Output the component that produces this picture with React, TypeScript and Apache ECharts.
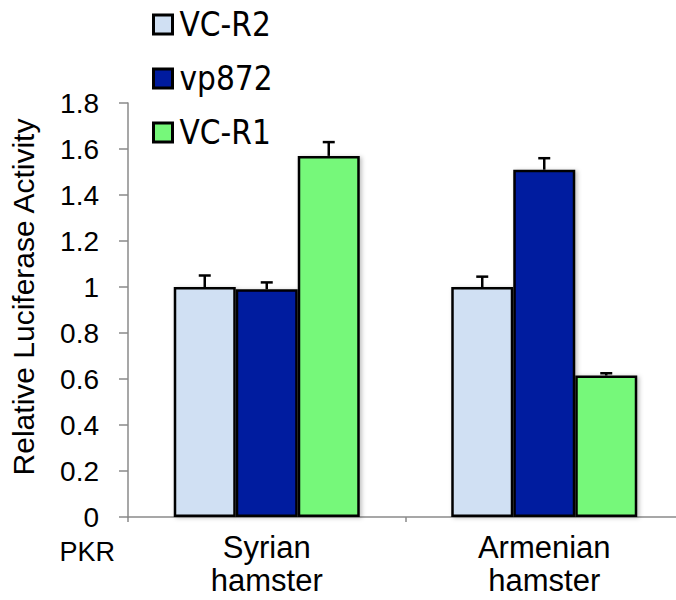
import React, { useEffect, useRef } from "react";
import * as echarts from "echarts";

const categories = ["Syrian\nhamster", "Armenian\nhamster"];
const seriesNames = ["VC-R2", "vp872", "VC-R1"];
const seriesColors = ["#D0E0F3", "#001B9F", "#76F87A"];
const vcR2 = [1.0, 1.0];
const vp872 = [0.99, 1.51];
const vcR1 = [1.57, 0.615];
const vcR2Err = [0.05, 0.045];
const vp872Err = [0.03, 0.05];
const vcR1Err = [0.06, 0.01];
const yTicks = { min: 0, max: 1.8, interval: 0.2 };

const FONT = "'Liberation Sans', Arial, sans-serif";
const NARROW = "'Liberation Sans Narrow', 'DejaVu Sans Condensed', 'Liberation Sans', sans-serif";
const BAR_W = 62;

export default function App() {
  const ref = useRef<HTMLDivElement>(null);

  useEffect(() => {
    document.body.style.margin = "0";
    if (!ref.current) return;
    const chart = echarts.init(ref.current, undefined, { renderer: "svg" });

    const values = [vcR2, vp872, vcR1];
    const errs = [vcR2Err, vp872Err, vcR1Err];

    // one row per bar: [category index, value, error, offset slot]
    const errData: number[][] = [];
    values.forEach((vals, s) => {
      vals.forEach((v, c) => errData.push([c, v, errs[s][c], s - 1]));
    });

    const barStyle = (color: string) => ({
      color,
      borderColor: "#000",
      borderWidth: 2.5,
      shadowColor: "rgba(0,0,0,0.25)",
      shadowBlur: 4,
      shadowOffsetX: 2,
      shadowOffsetY: 1,
    });

    chart.setOption({
      animation: false,
      backgroundColor: "#fff",
      textStyle: { fontFamily: FONT },
      grid: {
        left: 128,
        right: -7,
        top: 103,
        bottom: 83,
        outerBoundsMode: "none",
      },
      legend: {
        orient: "vertical",
        left: 152,
        top: 8,
        padding: 0,
        itemWidth: 19,
        itemHeight: 19,
        itemGap: 21,
        icon: "rect",
        data: seriesNames.map((name, s) => ({
          name,
          itemStyle: {
            color: seriesColors[s],
            borderColor: "#000",
            borderWidth: 3,
            shadowBlur: 0,
            shadowOffsetX: 0,
            shadowOffsetY: 0,
          },
        })),
        textStyle: { fontSize: 33, color: "#000", fontFamily: NARROW, padding: [0, 0, 0, 2] },
      },
      xAxis: {
        type: "category",
        data: categories,
        axisLine: { lineStyle: { color: "#8a8a8a", width: 1.5 } },
        axisTick: { show: true, length: 5, lineStyle: { color: "#8a8a8a", width: 1.5 } },
        axisLabel: {
          fontSize: 31,
          lineHeight: 33,
          color: "#000",
          fontFamily: FONT,
          margin: 14,
        },
      },
      yAxis: {
        type: "value",
        min: yTicks.min,
        max: yTicks.max,
        interval: yTicks.interval,
        splitLine: { show: false },
        axisLine: { show: true, lineStyle: { color: "#8a8a8a", width: 1.5 } },
        axisTick: { show: true, length: 9, lineStyle: { color: "#8a8a8a", width: 1.5 } },
        axisLabel: {
          fontSize: 28,
          color: "#000",
          fontFamily: FONT,
          margin: 29,
          formatter: (v: number) => String(Math.round(v * 10) / 10),
        },
      },
      graphic: [
        {
          type: "text",
          x: 23,
          y: 297,
          rotation: Math.PI / 2,
          style: {
            text: "Relative Luciferase Activity",
            fontSize: 30,
            fontFamily: FONT,
            fill: "#000",
            align: "center",
            verticalAlign: "middle",
          },
        },
        {
          type: "text",
          x: 115,
          y: 552,
          style: {
            text: "PKR",
            fontSize: 27,
            fontFamily: FONT,
            fill: "#000",
            align: "right",
            verticalAlign: "middle",
          },
        },
      ],
      series: [
        ...values.map((vals, s) => ({
          name: seriesNames[s],
          type: "bar",
          data: vals,
          barWidth: BAR_W,
          barGap: "0%",
          itemStyle: barStyle(seriesColors[s]),
          z: 2,
        })),
        {
          name: "error",
          type: "custom",
          z: 5,
          data: errData,
          encode: { x: 0, y: 1 },
          renderItem: (_params: any, api: any) => {
            const c = api.value(0);
            const v = api.value(1);
            const e = api.value(2);
            const slot = api.value(3);
            const base = api.coord([c, v]);
            const top = api.coord([c, v + e]);
            const cx = base[0] + slot * BAR_W;
            const style = { stroke: "#000", lineWidth: 2.5 };
            return {
              type: "group",
              children: [
                { type: "line", shape: { x1: cx, y1: base[1], x2: cx, y2: top[1] }, style },
                { type: "line", shape: { x1: cx - 6, y1: top[1], x2: cx + 6, y2: top[1] }, style },
              ],
            };
          },
        },
      ],
    });

    return () => chart.dispose();
  }, []);

  return <div ref={ref} style={{ width: 676, height: 600 }} />;
}
